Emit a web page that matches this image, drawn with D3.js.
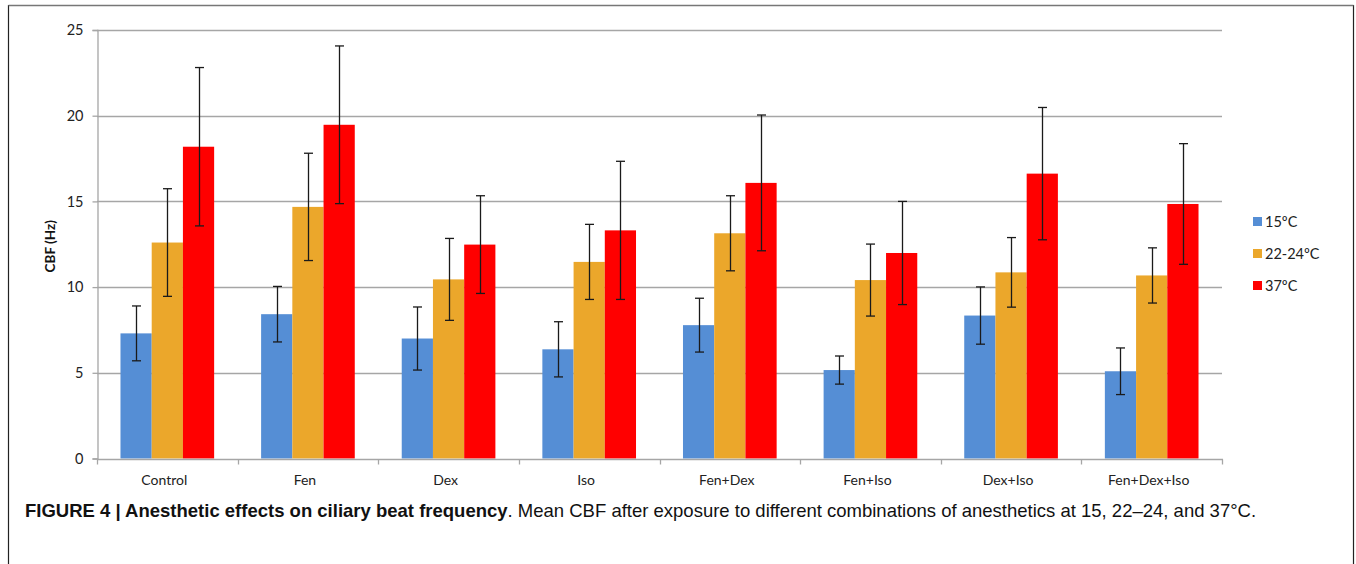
<!DOCTYPE html>
<html>
<head>
<meta charset="utf-8">
<script src="https://cdn.jsdelivr.net/npm/d3@7"></script>
<style>
  body { margin: 0; background: #fff; }
  svg { display: block; }
</style>
</head>
<body>
<div id="chart"></div>
<script>
// data
var categories = ["Control", "Fen", "Dex", "Iso", "Fen+Dex", "Fen+Iso", "Dex+Iso", "Fen+Dex+Iso"];
var seriesNames = ["15ºC", "22-24ºC", "37ºC"];
var colors = ["#558ed5", "#eba72b", "#ff0000"];
var cbf15 = [7.30, 8.42, 7.00, 6.37, 7.78, 5.16, 8.34, 5.09];
var cbf22 = [12.60, 14.68, 10.45, 11.47, 13.14, 10.41, 10.86, 10.68];
var cbf37 = [18.19, 19.47, 12.48, 13.31, 16.08, 11.99, 16.62, 14.85];
var err15 = [1.60, 1.62, 1.84, 1.61, 1.57, 0.82, 1.67, 1.36];
var err22 = [3.14, 3.13, 2.39, 2.19, 2.19, 2.10, 2.03, 1.61];
var err37 = [4.62, 4.60, 2.85, 4.03, 3.96, 3.01, 3.86, 3.52];
var yTicks = [0, 5, 10, 15, 20, 25];

var series = [cbf15, cbf22, cbf37];
var errors = [err15, err22, err37];

var width = 1356, height = 564;
var margin = {left: 97, right: 134, top: 30, bottom: 105};
var font = "Lato, 'Open Sans', sans-serif";

var svg = d3.select("#chart").append("svg")
    .attr("width", width)
    .attr("height", height);

// outer frame
svg.append("path")
    .attr("d", "M8.5,570 V5.5 H1353.5 V570")
    .attr("fill", "none")
    .attr("stroke", "#222")
    .attr("stroke-width", 1.2);
svg.append("line")
    .attr("x1", 8.5).attr("x2", 1353.5)
    .attr("y1", 5.5).attr("y2", 5.5)
    .attr("stroke", "#777").attr("stroke-width", 1.5);

// one band per category, bars take the middle two thirds
var x = d3.scaleBand()
    .domain(categories)
    .range([margin.left, width - margin.right]);
var step = x.step();
var groupW = step * 0.666;
var xs = d3.scaleBand()
    .domain(d3.range(seriesNames.length))
    .range([0, groupW]);

var y = d3.scaleLinear()
    .domain([0, 25])
    .range([height - margin.bottom - 0.5, margin.top]);

// gridlines
svg.append("g")
    .selectAll("line")
    .data(yTicks.slice(1))
    .enter().append("line")
    .attr("x1", margin.left).attr("x2", width - margin.right)
    .attr("y1", function(d){ return Math.round(y(d)) + 0.5; })
    .attr("y2", function(d){ return Math.round(y(d)) + 0.5; })
    .attr("stroke", "#a6a6a6")
    .attr("stroke-width", 1.3);

// y axis
var yAxis = svg.append("g")
    .attr("transform", "translate(" + (margin.left + 0.5) + ",0)")
    .call(d3.axisLeft(y).tickValues(yTicks).tickSize(5).tickPadding(9));
yAxis.select(".domain").attr("stroke", "#a6a6a6").attr("stroke-width", 1.3);
yAxis.selectAll(".tick line").attr("stroke", "#a6a6a6").attr("stroke-width", 1.3);
yAxis.selectAll("text")
    .attr("font-family", font)
    .attr("font-size", 14.5)
    .attr("fill", "#222");

svg.append("text")
    .attr("transform", "translate(55," + (y(12.5) + 2) + ") rotate(-90)")
    .attr("text-anchor", "middle")
    .attr("font-family", font)
    .attr("font-weight", "bold")
    .attr("font-size", 13.5)
    .attr("fill", "#111")
    .text("CBF (Hz)");

// bars
for (var s = 0; s < series.length; s++) {
    var g = svg.append("g");
    g.selectAll("rect")
        .data(series[s])
        .enter().append("rect")
        .attr("x", function(d, i){ return x(categories[i]) + (step - groupW) / 2 + xs(s); })
        .attr("y", function(d){ return y(d); })
        .attr("width", xs.bandwidth())
        .attr("height", function(d){ return y(0) - y(d); })
        .attr("fill", colors[s]);
}

// x axis
var xAxisY = Math.round(y(0)) + 0.5;
svg.append("line")
    .attr("x1", margin.left).attr("x2", width - margin.right + 1)
    .attr("y1", xAxisY).attr("y2", xAxisY)
    .attr("stroke", "#a6a6a6").attr("stroke-width", 1.5);
svg.append("g").selectAll("line")
    .data(d3.range(categories.length + 1))
    .enter().append("line")
    .attr("x1", function(d){ return Math.round(margin.left + d * step) + 0.5; })
    .attr("x2", function(d){ return Math.round(margin.left + d * step) + 0.5; })
    .attr("y1", xAxisY).attr("y2", xAxisY + 5)
    .attr("stroke", "#a6a6a6").attr("stroke-width", 1.3);
svg.append("g").selectAll("text")
    .data(categories)
    .enter().append("text")
    .attr("x", function(d){ return x(d) + step / 2 - 3; })
    .attr("y", xAxisY + 25)
    .attr("text-anchor", "middle")
    .attr("font-family", font)
    .attr("font-size", 14)
    .attr("fill", "#222")
    .text(function(d){ return d; });

// error bars
for (var s = 0; s < series.length; s++) {
    var eg = svg.append("g").attr("stroke", "#1a1a1a").attr("stroke-width", 1.3);
    series[s].forEach(function(v, i){
        var cx = Math.round(x(categories[i]) + (step - groupW) / 2 + xs(s) + xs.bandwidth() / 2) + 0.5;
        var e = errors[s][i];
        eg.append("line")
            .attr("x1", cx).attr("x2", cx)
            .attr("y1", y(v + e)).attr("y2", y(v - e));
        eg.append("line")
            .attr("x1", cx - 4.5).attr("x2", cx + 4.5)
            .attr("y1", y(v + e)).attr("y2", y(v + e));
        eg.append("line")
            .attr("x1", cx - 4.5).attr("x2", cx + 4.5)
            .attr("y1", y(v - e)).attr("y2", y(v - e));
    });
}

// legend
var legend = svg.append("g").selectAll("g")
    .data(seriesNames)
    .enter().append("g")
    .attr("transform", function(d, i){ return "translate(1253," + (217 + i * 32) + ")"; });
legend.append("rect")
    .attr("width", 9).attr("height", 9)
    .attr("fill", function(d, i){ return colors[i]; });
legend.append("text")
    .attr("x", 12).attr("y", 10)
    .attr("font-family", font)
    .attr("font-size", 14.5)
    .attr("fill", "#222")
    .text(function(d){ return d; });

// caption
var cap = svg.append("text")
    .attr("x", 25).attr("y", 517)
    .attr("font-family", "'Liberation Sans Narrow', 'Arial Narrow', 'Liberation Sans', sans-serif")
    .attr("font-size", 18.5)
    .attr("fill", "#111");
cap.append("tspan")
    .attr("font-weight", "bold")
    .text("FIGURE 4 | Anesthetic effects on ciliary beat frequency");
cap.append("tspan")
    .text(". Mean CBF after exposure to different combinations of anesthetics at 15, 22\u201324, and 37\u00b0C.");
</script>
</body>
</html>
